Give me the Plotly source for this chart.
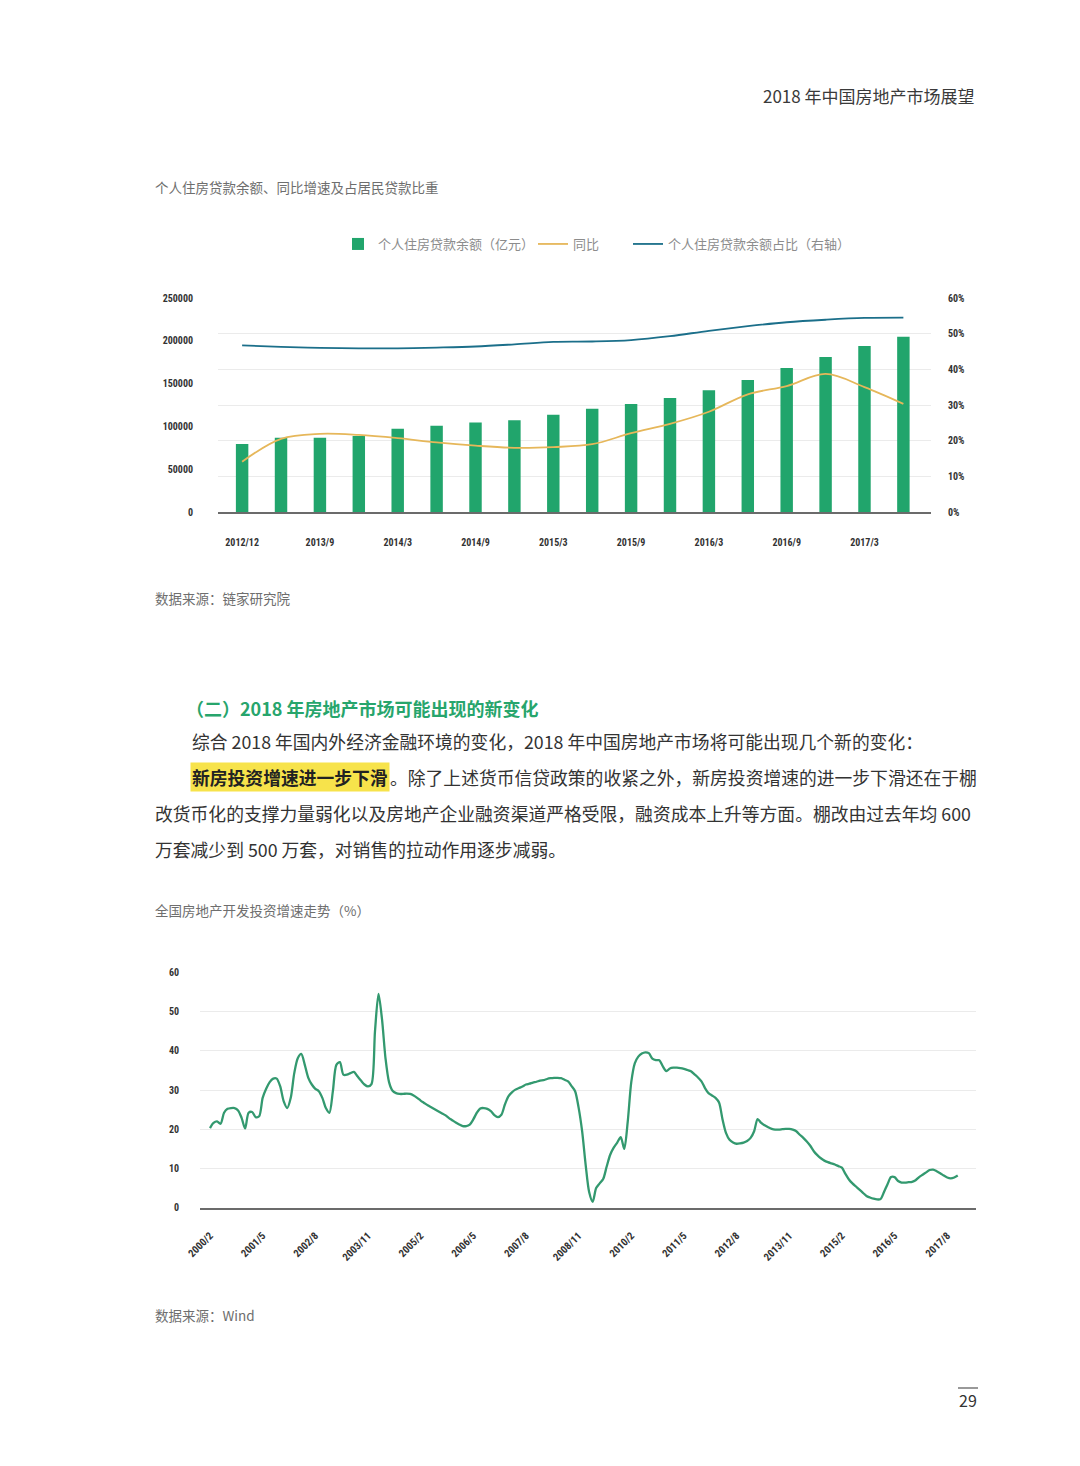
import plotly.graph_objects as go

W, H = 1080, 1466

# ---------------- data: chart 1 ----------------
loan_periods = ["2012/12", "2013/6", "2013/9", "2013/12", "2014/3", "2014/6", "2014/9", "2014/12",
                "2015/3", "2015/6", "2015/9", "2015/12", "2016/3", "2016/6", "2016/9", "2016/12",
                "2017/3", "2017/6"]
loan_balance = [79400, 86800, 86800, 88800, 97300, 100800, 104700, 107100, 113700, 120700,
                126100, 133200, 142100, 154200, 168200, 181000, 193900, 204800]
loan_yoy = [0.141, 0.205, 0.219, 0.216, 0.207, 0.195, 0.186, 0.180, 0.182, 0.190,
            0.221, 0.247, 0.281, 0.330, 0.353, 0.387, 0.350, 0.303]
loan_share = [0.467, 0.463, 0.460, 0.459, 0.459, 0.461, 0.464, 0.470, 0.477, 0.478,
              0.482, 0.493, 0.508, 0.521, 0.532, 0.539, 0.544, 0.545]
loan_tick_labels = loan_periods[0::2]

# ---------------- data: chart 2 (monthly, 2000/2 - 2017/11) ----------------
invest_growth = [
    20.3, 21.6, 22.0, 21.4, 24.2, 25.2, 25.4, 25.4, 24.8, 22.9, 20.2, 24.2, 24.4, 23.1, 23.3,
    28.0, 30.3, 32.0, 32.9, 32.9, 30.9, 27.1, 25.4, 28.0, 34.3, 38.1, 39.2, 36.4, 33.1, 31.4,
    30.3, 29.7, 28.0, 25.4, 24.2, 29.7, 36.4, 37.1, 33.9, 33.9, 34.3, 34.6, 33.5, 32.4, 31.4,
    30.9, 31.5, 45.0, 54.5, 48.0, 38.0, 32.0, 29.8, 29.2, 29.0, 29.0, 29.1, 29.0, 28.6, 28.0,
    27.3, 26.7, 26.1, 25.6, 25.1, 24.6, 24.1, 23.6, 22.9, 22.3, 21.7, 21.2, 20.8, 20.8, 21.2,
    22.5, 24.2, 25.3, 25.4, 25.2, 24.6, 23.6, 23.1, 23.7, 26.3, 28.4, 29.4, 30.1, 30.5, 30.9,
    31.4, 31.6, 31.9, 32.1, 32.4, 32.5, 32.8, 33.0, 33.1, 33.1, 33.0, 32.6, 32.2, 31.0, 29.7,
    25.5, 19.5, 11.0, 4.0, 1.5, 5.0, 6.2, 7.3, 10.5, 13.5, 15.3, 16.6, 18.0, 15.0, 22.0,
    32.0, 36.8, 38.5, 39.3, 39.6, 39.4, 38.0, 37.6, 37.6, 36.0, 34.8, 35.5, 35.7, 35.7, 35.6,
    35.4, 35.1, 34.8, 34.0, 33.2, 32.2, 30.5, 29.2, 28.6, 28.0, 26.8, 22.5, 19.0, 17.3, 16.6,
    16.3, 16.4, 16.6, 17.0, 17.8, 19.5, 22.6, 21.6, 21.0, 20.5, 20.1, 19.9, 19.9, 20.0, 20.1,
    20.1, 19.9, 19.5, 18.6, 17.8, 16.9, 15.8, 14.4, 13.4, 12.6, 12.0, 11.6, 11.3, 11.0, 10.6,
    10.2, 8.6, 7.2, 6.2, 5.4, 4.6, 3.8, 3.0, 2.6, 2.3, 2.1, 2.2, 4.0, 6.0, 7.8,
    7.8, 6.8, 6.4, 6.4, 6.5, 6.6, 7.0, 7.8, 8.4, 9.0, 9.6, 9.7, 9.3, 8.8, 8.2,
    7.7, 7.5, 7.7, 8.2,
]
invest_months = list(range(len(invest_growth)))
invest_tick_idx = list(range(0, 211, 15))
invest_tick_labels = ["2000/2", "2001/5", "2002/8", "2003/11", "2005/2", "2006/5", "2007/8",
                      "2008/11", "2010/2", "2011/5", "2012/8", "2013/11", "2015/2", "2016/5",
                      "2017/8"]

# ---------------- styles ----------------
CJK = "Noto Sans CJK SC, Noto Sans, sans-serif"
COND = "Roboto Condensed, DejaVu Sans Condensed, Liberation Sans Narrow, Roboto, sans-serif"
BAR_GREEN = "#21a56c"
GOLD = "#e6b75a"
TEAL = "#1b6f8a"
LINE_GREEN = "#33996f"
GRID = "#ebebeb"
AXIS = "#6b6b6b"


def px_x(x):
    return x / W


def px_y(y):
    return 1 - y / H


fig = go.Figure()

fig.add_trace(go.Bar(
    x=loan_periods, y=loan_balance, name="个人住房贷款余额（亿元）",
    marker=dict(color=BAR_GREEN, line=dict(width=0)), width=0.32,
    xaxis="x", yaxis="y", legendwidth=150,
))
fig.add_trace(go.Scatter(
    x=loan_periods, y=loan_yoy, name="同比", mode="lines",
    line=dict(color=GOLD, width=1.8, shape="spline", smoothing=1.0),
    xaxis="x", yaxis="y2", legendwidth=50,
))
fig.add_trace(go.Scatter(
    x=loan_periods, y=loan_share, name="个人住房贷款余额占比（右轴）", mode="lines",
    line=dict(color=TEAL, width=1.8, shape="spline", smoothing=1.0),
    xaxis="x", yaxis="y2",
))
fig.add_trace(go.Scatter(
    x=invest_months, y=invest_growth, mode="lines", showlegend=False,
    line=dict(color=LINE_GREEN, width=2.3, shape="spline", smoothing=0.8),
    xaxis="x2", yaxis="y3",
))

tickfont = dict(family=COND, size=10, color="#333333", weight="bold")

fig.update_layout(
    width=W, height=H,
    margin=dict(l=0, r=0, t=0, b=0, autoexpand=False),
    paper_bgcolor="white", plot_bgcolor="white",
    showlegend=True,
    legend=dict(
        orientation="h", x=px_x(338), xanchor="left", y=px_y(244), yanchor="middle",
        font=dict(family=CJK, size=13, color="#8c8c8c"),
        bgcolor="rgba(0,0,0,0)", itemwidth=30, traceorder="normal",
        entrywidthmode="pixels",
    ),
    xaxis=dict(
        domain=[px_x(218), px_x(931)], type="category", range=[-0.62, 17.71],
        tickmode="array", tickvals=loan_tick_labels, ticktext=loan_tick_labels,
        showgrid=False, showline=True, linecolor=AXIS, linewidth=1.5,
        ticks="", ticklabelstandoff=20, tickfont=tickfont, zeroline=False,
        automargin=False,
    ),
    yaxis=dict(
        domain=[px_y(512), px_y(298)], range=[0, 250000], tickmode="linear", tick0=0,
        dtick=50000, showgrid=False, zeroline=False, ticks="", ticklabelstandoff=24,
        tickfont=tickfont, tickformat="d", automargin=False,
    ),
    yaxis2=dict(
        domain=[px_y(512), px_y(298)], range=[0, 0.6], overlaying="y", side="right",
        anchor="x", tickmode="linear", tick0=0, dtick=0.1, tickformat=".0%",
        showgrid=True, gridcolor=GRID, gridwidth=1, zeroline=False, ticks="",
        ticklabelstandoff=16, tickfont=tickfont, automargin=False,
    ),
    xaxis2=dict(
        domain=[px_x(200), px_x(976)], anchor="y3", range=[-2.85, 218.2],
        tickmode="array", tickvals=invest_tick_idx, ticktext=invest_tick_labels,
        tickangle=-45, showgrid=False, showline=True, linecolor=AXIS, linewidth=1.5,
        ticks="", ticklabelstandoff=16, tickfont=dict(tickfont, size=10.5), zeroline=False,
        automargin=False,
    ),
    yaxis3=dict(
        domain=[px_y(1207.7), px_y(972.3)], anchor="x2", range=[0, 60],
        tickmode="linear", tick0=0, dtick=10, showgrid=True, gridcolor=GRID,
        zeroline=False, ticks="", ticklabelstandoff=20, tickfont=tickfont,
        automargin=False,
    ),
)

annotations = []


def add_text(text, x, y, size, color="#333333", anchor="left", weight="normal", bg=None,
             family=CJK):
    d = dict(text=text, x=px_x(x), y=px_y(y), xref="paper", yref="paper",
             xanchor=anchor, yanchor="middle", showarrow=False,
             font=dict(family=family, size=size, color=color, weight=weight))
    if bg:
        d["bgcolor"] = bg
        d["borderpad"] = 1
    annotations.append(d)


add_text("2018 年中国房地产市场展望", 977, 96, 17, "#3a3a3a", anchor="right")
add_text("个人住房贷款余额、同比增速及占居民贷款比重", 153, 187, 13.5, "#6e6e6e")
add_text("数据来源：链家研究院", 153, 598, 13.5, "#6e6e6e")

add_text("（二）2018 年房地产市场可能出现的新变化", 184, 708, 18, "#27a56c", weight="bold")
BODY = 17.8
add_text("综合 2018 年国内外经济金融环境的变化，2018 年中国房地产市场将可能出现几个新的变化：",
         190, 741, BODY, "#333333")
add_text("新房投资增速进一步下滑", 190, 777, BODY, "#222222", weight="bold", bg="#f7e34b")
add_text("。除了上述货币信贷政策的收紧之外，新房投资增速的进一步下滑还在于棚",
         190 + 11 * BODY + 2, 777, BODY, "#333333")
add_text("改货币化的支撑力量弱化以及房地产企业融资渠道严格受限，融资成本上升等方面。棚改由过去年均 600",
         153, 813, BODY, "#333333")
add_text("万套减少到 500 万套，对销售的拉动作用逐步减弱。", 153, 849, BODY, "#333333")

add_text("全国房地产开发投资增速走势（%）", 153, 910, 13.5, "#6e6e6e")
add_text("数据来源：Wind", 153, 1315, 13.5, "#6e6e6e")
add_text("29", 968, 1400, 16, "#333333", anchor="center")

fig.update_layout(annotations=annotations)
fig.add_shape(type="line", xref="paper", yref="paper",
              x0=px_x(958), x1=px_x(978), y0=px_y(1388), y1=px_y(1388),
              line=dict(color="#555555", width=1.2))

fig.write_html("out.html", config={"displayModeBar": False},
               post_script="document.body.style.margin='0';document.body.style.overflow='hidden';")
